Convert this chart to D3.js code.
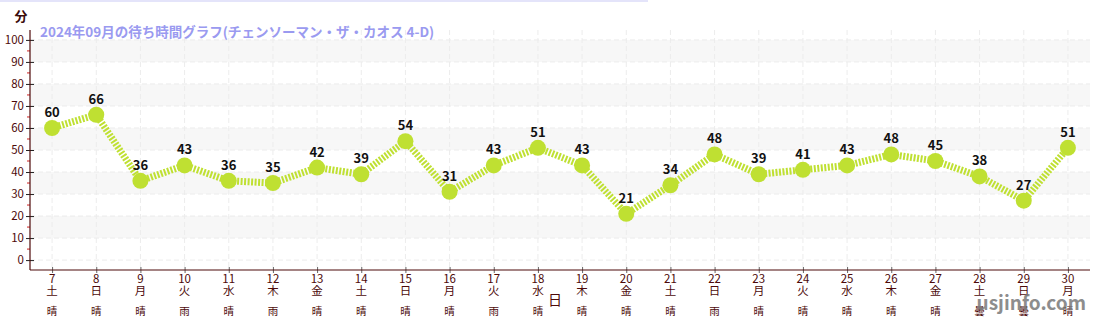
<!DOCTYPE html>
<html>
<head>
<meta charset="utf-8">
<script src="https://cdn.jsdelivr.net/npm/d3@7"></script>
<style>
  body { margin: 0; background: #fff; }
  text { font-family: "Noto Sans CJK JP", "Noto Sans", sans-serif; }
</style>
</head>
<body>
<div id="chart"></div>
<script>
// data
let days = [7, 8, 9, 10, 11, 12, 13, 14, 15, 16, 17, 18, 19, 20, 21, 22, 23, 24, 25, 26, 27, 28, 29, 30];
let weekdays = ["土", "日", "月", "火", "水", "木", "金", "土", "日", "月", "火", "水", "木", "金", "土", "日", "月", "火", "水", "木", "金", "土", "日", "月"];
let weather = ["晴", "晴", "晴", "雨", "晴", "雨", "晴", "晴", "晴", "晴", "雨", "晴", "晴", "晴", "晴", "雨", "晴", "晴", "晴", "晴", "晴", "曇", "曇", "晴"];
let waits = [60, 66, 36, 43, 36, 35, 42, 39, 54, 31, 43, 51, 43, 21, 34, 48, 39, 41, 43, 48, 45, 38, 27, 51];
let yTicks = [0, 10, 20, 30, 40, 50, 60, 70, 80, 90, 100];

let svgWidth = 1100;
let svgHeight = 320;
let margin = { top: 30, right: 10, bottom: 50, left: 30 };
let chartWidth = svgWidth - margin.left - margin.right;
let chartHeight = svgHeight - margin.top - margin.bottom;

let axisColor = "#4d0a0a";
let lineColor = "#bfe032";

let svg = d3.select("#chart")
  .append("svg")
  .attr("width", svgWidth)
  .attr("height", svgHeight);

// thin top bar
svg.append("rect")
  .attr("x", 0).attr("y", 0)
  .attr("width", 648).attr("height", 2)
  .attr("fill", "#e4e4fa");

let chartGroup = svg.append("g")
  .attr("transform", `translate(${margin.left}, ${margin.top})`);

let xScale = d3.scaleLinear()
  .domain([6.5, 30.5])
  .range([0, chartWidth]);

let yScale = d3.scaleLinear()
  .domain([-4.5, 104.5])
  .range([chartHeight, 0]);

// alternating bands
let bands = [[90, 100], [70, 80], [50, 60], [30, 40], [10, 20]];
chartGroup.selectAll(".band")
  .data(bands)
  .enter()
  .append("rect")
  .attr("x", 0)
  .attr("width", chartWidth)
  .attr("y", d => yScale(d[1]))
  .attr("height", d => yScale(d[0]) - yScale(d[1]))
  .attr("fill", "#f7f7f7");

// grid
chartGroup.selectAll(".hgrid")
  .data(yTicks)
  .enter()
  .append("line")
  .attr("x1", 0).attr("x2", chartWidth)
  .attr("y1", d => yScale(d)).attr("y2", d => yScale(d))
  .attr("stroke", "#ececec")
  .attr("stroke-dasharray", "5,3");

chartGroup.selectAll(".vgrid")
  .data(days)
  .enter()
  .append("line")
  .attr("x1", d => xScale(d)).attr("x2", d => xScale(d))
  .attr("y1", 0).attr("y2", chartHeight)
  .attr("stroke", "#ececec")
  .attr("stroke-dasharray", "5,3");

// y axis
let yAxis = d3.axisLeft(yScale)
  .tickValues(yTicks)
  .tickSize(4)
  .tickPadding(3);
let yG = chartGroup.append("g").call(yAxis);
yG.select(".domain").remove();
yG.selectAll(".tick line").attr("x2", -4).attr("x1", 4).attr("stroke", "#222");
yG.selectAll(".tick text")
  .attr("fill", axisColor)
  .style("font-size", "11.5px")
  .attr("x", -6);

// minor red ticks
let minorTicks = d3.range(5, 105, 10);
chartGroup.selectAll(".minor")
  .data(minorTicks)
  .enter()
  .append("line")
  .attr("x1", -3).attr("x2", 0)
  .attr("y1", d => yScale(d)).attr("y2", d => yScale(d))
  .attr("stroke", "#d02020");

chartGroup.append("line")
  .attr("x1", 0).attr("x2", 0)
  .attr("y1", 0).attr("y2", chartHeight)
  .attr("stroke", axisColor).attr("stroke-width", 1.2);

// x axis
let xAxis = d3.axisBottom(xScale)
  .tickValues(days)
  .tickSize(3)
  .tickFormat("");
let xG = chartGroup.append("g")
  .attr("transform", `translate(0, ${chartHeight})`)
  .call(xAxis);
xG.select(".domain").remove();
xG.selectAll(".tick line").attr("y1", -3).attr("y2", 3).attr("stroke", "#666");

chartGroup.append("line")
  .attr("x1", 0).attr("x2", chartWidth)
  .attr("y1", chartHeight).attr("y2", chartHeight)
  .attr("stroke", axisColor).attr("stroke-width", 1.2);

let xLabels = chartGroup.append("g")
  .attr("transform", `translate(0, ${chartHeight})`);

xLabels.selectAll(".dayText")
  .data(days)
  .enter()
  .append("text")
  .attr("x", d => xScale(d))
  .attr("y", 13)
  .attr("text-anchor", "middle")
  .attr("fill", axisColor)
  .style("font-size", "11.5px")
  .text(d => d);

xLabels.selectAll(".wdText")
  .data(days)
  .enter()
  .append("text")
  .attr("x", d => xScale(d))
  .attr("y", 25)
  .attr("text-anchor", "middle")
  .attr("fill", axisColor)
  .style("font-size", "11.5px")
  .text((d, i) => weekdays[i]);

xLabels.selectAll(".wxText")
  .data(days)
  .enter()
  .append("text")
  .attr("x", d => xScale(d))
  .attr("y", 45)
  .attr("text-anchor", "middle")
  .attr("fill", axisColor)
  .style("font-size", "10.5px")
  .text((d, i) => weather[i]);

// axis titles
xLabels.append("text")
  .attr("x", 525)
  .attr("y", 35)
  .attr("text-anchor", "middle")
  .attr("fill", axisColor)
  .style("font-size", "14px")
  .text("日");

svg.append("text")
  .attr("x", 21)
  .attr("y", 21)
  .attr("text-anchor", "middle")
  .attr("fill", "#3a0a0a")
  .style("font-size", "13px")
  .style("font-weight", "bold")
  .text("分");

svg.append("text")
  .attr("x", 40)
  .attr("y", 37)
  .attr("fill", "#9a9af0")
  .style("font-size", "13.5px")
  .style("font-weight", "bold")
  .text("2024年09月の待ち時間グラフ(チェンソーマン・ザ・カオス 4-D)");

// line
let points = days.map((d, i) => [d, waits[i]]);
let line = d3.line()
  .x(d => xScale(d[0]))
  .y(d => yScale(d[1]));

chartGroup.append("path")
  .datum(points)
  .attr("d", line)
  .attr("fill", "none")
  .attr("stroke", lineColor)
  .attr("stroke-width", 7)
  .attr("stroke-dasharray", "2,1.5");

chartGroup.selectAll(".dot")
  .data(points)
  .enter()
  .append("circle")
  .attr("cx", d => xScale(d[0]))
  .attr("cy", d => yScale(d[1]))
  .attr("r", 8)
  .attr("fill", lineColor);

chartGroup.selectAll(".valText")
  .data(points)
  .enter()
  .append("text")
  .attr("x", d => xScale(d[0]))
  .attr("y", d => yScale(d[1]) - 11)
  .attr("text-anchor", "middle")
  .attr("fill", "#111")
  .style("font-size", "13px")
  .style("font-weight", "bold")
  .text(d => d[1]);

// watermark
svg.append("text")
  .attr("x", 1086)
  .attr("y", 310)
  .attr("text-anchor", "end")
  .attr("fill", "#7a7a7a")
  .attr("opacity", 0.85)
  .style("font-size", "19px")
  .style("font-weight", "bold")
  .text("usjinfo.com");
</script>
</body>
</html>
